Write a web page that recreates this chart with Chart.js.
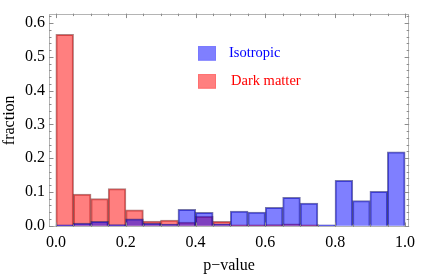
<!DOCTYPE html>
<html>
<head>
<meta charset="utf-8">
<script src="https://cdn.jsdelivr.net/npm/chart.js@4/dist/chart.umd.min.js"></script>
<style>
  html, body { margin: 0; padding: 0; background: #fff; }
  #wrap { width: 421px; height: 275px; position: relative; }
</style>
</head>
<body>
<div id="wrap"><canvas id="c" width="421" height="275"></canvas></div>
<script>
// Bin centres (p-value histogram, bin width 0.05)
const binCenters = [0.025, 0.075, 0.125, 0.175, 0.225, 0.275, 0.325, 0.375, 0.425, 0.475,
                    0.525, 0.575, 0.625, 0.675, 0.725, 0.775, 0.825, 0.875, 0.925, 0.975];
// Fractions per bin
const isotropic  = [0.002, 0.007, 0.012, 0.003, 0.020, 0.007, 0.004, 0.048, 0.039, 0.005,
                    0.043, 0.040, 0.054, 0.083, 0.066, 0.002, 0.134, 0.074, 0.101, 0.218];
const darkMatter = [0.566, 0.093, 0.080, 0.109, 0.046, 0.013, 0.016, 0.010, 0.027, 0.012,
                    0.002, 0.002, 0.003, 0.005, 0.002, 0, 0, 0, 0, 0];
const xTickValues = [0, 0.2, 0.4, 0.6, 0.8, 1.0];
const yTickValues = [0, 0.1, 0.2, 0.3, 0.4, 0.5, 0.6];
const seriesNames = ["Isotropic", "Dark matter"];

const FONT = "'Liberation Serif', 'Times New Roman', serif";

const frameTicks = {
  id: 'frameTicks',
  afterDatasetsDraw(chart) {
    const {ctx, chartArea: a, scales: {x, y}} = chart;
    ctx.save();
    ctx.strokeStyle = '#b4b4b4';
    ctx.lineWidth = 1;
    ctx.strokeRect(Math.round(a.left) + 0.5, Math.round(a.top) + 0.5,
                   Math.round(a.right - a.left) - 1, Math.round(a.bottom - a.top) - 1);
    ctx.strokeStyle = '#8c8c8c';
    ctx.beginPath();
    for (let i = 0; i <= 20; i++) {
      const v = i * 0.05;
      const px = Math.round(x.getPixelForValue(v)) + 0.5;
      const len = (i % 4 === 0) ? 4.5 : 2.5;
      ctx.moveTo(px, a.bottom); ctx.lineTo(px, a.bottom - len);
      ctx.moveTo(px, a.top); ctx.lineTo(px, a.top + len);
    }
    for (let i = 0; i <= 31; i++) {
      const v = i * 0.02;
      const py = Math.round(y.getPixelForValue(v)) + 0.5;
      const len = (i % 5 === 0) ? 4.5 : 2.5;
      ctx.moveTo(a.left, py); ctx.lineTo(a.left + len, py);
      ctx.moveTo(a.right, py); ctx.lineTo(a.right - len, py);
    }
    ctx.stroke();
    ctx.restore();
  }
};

const insideLegend = {
  id: 'insideLegend',
  afterDraw(chart) {
    const {ctx, chartArea: a} = chart;
    const ds = chart.data.datasets;
    const x0 = a.left + 149;
    const tops = [a.top + 32.5, a.top + 60.5];
    const textColors = ['#0000ff', '#ff0000'];
    ctx.save();
    ds.forEach((d, i) => {
      ctx.fillStyle = d.backgroundColor;
      ctx.fillRect(x0, tops[i], 18, 14.5);
      ctx.strokeStyle = d.legendEdge;
      ctx.lineWidth = 1;
      ctx.strokeRect(x0 + 0.5, tops[i] + 0.5, 17, 13.5);
      ctx.fillStyle = textColors[i];
      ctx.font = "14.5px " + FONT;
      ctx.textBaseline = 'middle';
      ctx.textAlign = 'left';
      ctx.fillText(d.label, x0 + 31 + (i === 1 ? 2 : 0), tops[i] + 7.5);
    });
    ctx.restore();
  }
};

const barOpts = { grouped: false, barPercentage: 1, categoryPercentage: 1, inflateAmount: 0.5 };

new Chart(document.getElementById('c'), {
  type: 'bar',
  data: {
    datasets: [
      Object.assign({
        label: seriesNames[0],
        data: binCenters.map((c, i) => ({x: c, y: isotropic[i]})),
        backgroundColor: 'rgba(0,0,255,0.5)',
        borderColor: 'rgba(30,30,110,0.6)',
        legendEdge: 'rgba(120,120,255,0.9)',
        borderWidth: 1
      }, barOpts),
      Object.assign({
        label: seriesNames[1],
        data: binCenters.map((c, i) => ({x: c, y: darkMatter[i]})),
        backgroundColor: 'rgba(255,0,0,0.5)',
        borderColor: 'rgba(110,30,30,0.55)',
        legendEdge: 'rgba(255,110,110,0.9)',
        borderWidth: 1
      }, barOpts)
    ]
  },
  options: {
    responsive: false,
    animation: false,
    devicePixelRatio: 1,
    datasets: { bar: barOpts },
    layout: { padding: { top: 3, right: 3, left: 0, bottom: 0 } },
    plugins: { legend: { display: false }, tooltip: { enabled: false } },
    scales: {
      x: {
        type: 'linear',
        min: -0.02,
        max: 1.012,
        offset: false,
        afterBuildTicks: s => { s.ticks = xTickValues.map(v => ({value: v})); },
        afterFit: s => { s.height = 48; },
        grid: { display: false, drawTicks: false },
        border: { display: false },
        ticks: {
          padding: 6,
          color: '#000',
          font: { family: FONT, size: 16 },
          maxRotation: 0,
          autoSkip: false,
          callback: v => Number(v).toFixed(1)
        },
        title: {
          display: true,
          text: 'p\u2212value',
          color: '#000',
          font: { family: FONT, size: 16 },
          padding: { top: 0, bottom: 0 }
        }
      },
      y: {
        type: 'linear',
        min: -0.004,
        max: 0.628,
        afterBuildTicks: s => { s.ticks = yTickValues.map(v => ({value: v})); },
        afterFit: s => { s.width = 49; },
        grid: { display: false, drawTicks: false },
        border: { display: false },
        ticks: {
          padding: 4,
          color: '#000',
          font: { family: FONT, size: 16 },
          autoSkip: false,
          callback: v => Number(v).toFixed(1)
        },
        title: {
          display: true,
          text: 'fraction',
          color: '#000',
          font: { family: FONT, size: 16 },
          padding: { top: 0, bottom: 0 }
        }
      }
    }
  },
  plugins: [frameTicks, insideLegend]
});
</script>
</body>
</html>
